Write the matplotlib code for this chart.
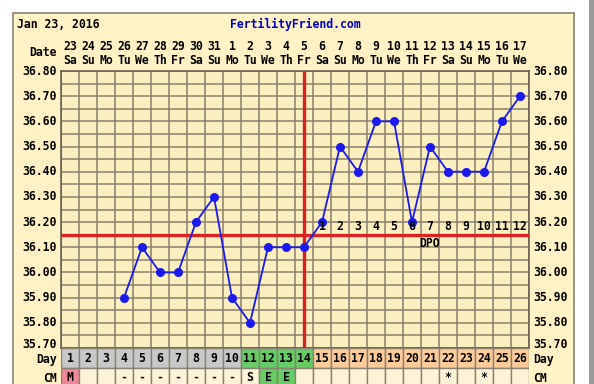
import matplotlib.pyplot as plt
import matplotlib.patches as patches
import numpy as np

# chart data
cycle_days = list(range(1, 27))
dates = ['23', '24', '25', '26', '27', '28', '29', '30', '31', '1', '2', '3', '4',
         '5', '6', '7', '8', '9', '10', '11', '12', '13', '14', '15', '16', '17']
weekdays = ['Sa', 'Su', 'Mo', 'Tu', 'We', 'Th', 'Fr'] * 4
weekdays = weekdays[:26]
temp_days = [4, 5, 6, 7, 8, 9, 10, 11, 12, 13, 14, 15, 16, 17, 18, 19, 20, 21, 22, 23, 24, 25, 26]
temps = [35.90, 36.10, 36.00, 36.00, 36.20, 36.30, 35.90, 35.80, 36.10, 36.10, 36.10,
         36.20, 36.50, 36.40, 36.60, 36.60, 36.20, 36.50, 36.40, 36.40, 36.40, 36.60, 36.70]
temp_ticks = [35.70, 35.80, 35.90, 36.00, 36.10, 36.20, 36.30, 36.40, 36.50, 36.60, 36.70, 36.80]
coverline = 36.15
ovulation_day = 14
dpo_labels = [str(i) for i in range(1, 13)]
cm_marks = ['M', '', '', '-', '-', '-', '-', '-', '-', '-', 'S', 'E', 'E', '',
            '', '', '', '', '', '', '', '*', '', '*', '', '']

W, H = 594, 384
fig = plt.figure(figsize=(W / 100, H / 100), dpi=100)
fig.patch.set_facecolor('white')

def fx(px):
    return px / W

def fy(py):
    return 1 - py / H

# outer frame and right strip (behind the axes)
fig.patches.append(patches.Rectangle((fx(13), fy(390)), fx(574 - 13), fy(13) - fy(390),
                                     transform=fig.transFigure, facecolor='#fff3c6',
                                     edgecolor='#8a8270', lw=1.2, zorder=-5))
fig.patches.append(patches.Rectangle((fx(589), 0), fx(6), 1, transform=fig.transFigure,
                                     facecolor='#9a9a9a', edgecolor='none', zorder=-5))

font = dict(family='DejaVu Sans Mono', weight='bold', size=8.3)

x0, x1 = 61, 529
ytop, ybot = 71, 348
ax = fig.add_axes([fx(x0), fy(ybot), fx(x1 - x0), fy(ytop) - fy(ybot)])
ax.set_facecolor('#fcefbe')
ax.set_xlim(0.5, 26.5)
ax.set_ylim(35.70, 36.80)
for d in range(0, 27):
    ax.axvline(d + 0.5, color='#8a7f6a', lw=1.1, zorder=1)
for t in np.arange(35.70, 36.81, 0.05):
    ax.axhline(t, color='#8a7f6a', lw=1.1, zorder=1)
ax.set_xticks([])
ax.set_yticks([])
for s in ax.spines.values():
    s.set_color('#6a6050')
    s.set_linewidth(1.2)

ax.axhline(coverline, color='#dd2020', lw=2.4, zorder=3)
ax.plot([ovulation_day, ovulation_day], [35.70, 36.80], color='#dd2020', lw=2.4, zorder=3)
ax.plot(temp_days, temps, color='#1a1aee', lw=1.3, marker='o', ms=5.5, zorder=4)

for i, lab in enumerate(dpo_labels):
    ax.text(ovulation_day + 1 + i, coverline + 0.008, lab, ha='center', va='bottom',
            zorder=5, **font)
ax.text(21, coverline - 0.008, 'DPO', ha='center', va='top', zorder=5, **font)

# temperature labels both sides
for t in temp_ticks:
    py = ybot - (t - 35.70) / 1.10 * (ybot - ytop)
    if t == 35.70:
        py -= 3
    fig.text(fx(57), fy(py), f'{t:.2f}', ha='right', va='center', **font)
    fig.text(fx(533), fy(py), f'{t:.2f}', ha='left', va='center', **font)

# header
fig.text(fx(17), fy(24), 'Jan 23, 2016', ha='left', va='center', **font)
fig.text(fx(295), fy(24), 'FertilityFriend.com', ha='center', va='center',
         color='#0000cc', **font)
fig.text(fx(57), fy(53), 'Date', ha='right', va='center', **font)
colw = (x1 - x0) / 26
for i, d in enumerate(cycle_days):
    cx = x0 + (i + 0.5) * colw
    fig.text(fx(cx), fy(47), dates[i], ha='center', va='center', **font)
    fig.text(fx(cx), fy(60), weekdays[i], ha='center', va='center', **font)

# day row and CM row
row = fig.add_axes([fx(x0), 0, fx(x1 - x0), fy(ybot)])
row.set_xlim(0.5, 26.5)
row.set_ylim(H - ybot, 0)
row.axis('off')
for i, d in enumerate(cycle_days):
    if d <= 10:
        c = '#c8c8c8'
    elif d <= 14:
        c = '#66cc66'
    else:
        c = '#ffcc99'
    row.add_patch(patches.Rectangle((d - 0.5, 0), 1, 20, facecolor=c,
                                    edgecolor='#8a8270', lw=1.0))
    row.text(d, 10.5, str(d), ha='center', va='center', **font)
    if cm_marks[i] == 'M':
        cc = '#f08898'
    elif cm_marks[i] == 'E':
        cc = '#66cc66'
    else:
        cc = '#fdf3d6'
    row.add_patch(patches.Rectangle((d - 0.5, 20), 1, 20, facecolor=cc,
                                    edgecolor='#8a8270', lw=1.0))
    row.text(d, 29.5, cm_marks[i], ha='center', va='center', **font)

fig.text(fx(57), fy(359), 'Day', ha='right', va='center', **font)
fig.text(fx(533), fy(359), 'Day', ha='left', va='center', **font)
fig.text(fx(57), fy(378), 'CM', ha='right', va='center', **font)
fig.text(fx(533), fy(378), 'CM', ha='left', va='center', **font)

fig.savefig('out.png', dpi=100)
